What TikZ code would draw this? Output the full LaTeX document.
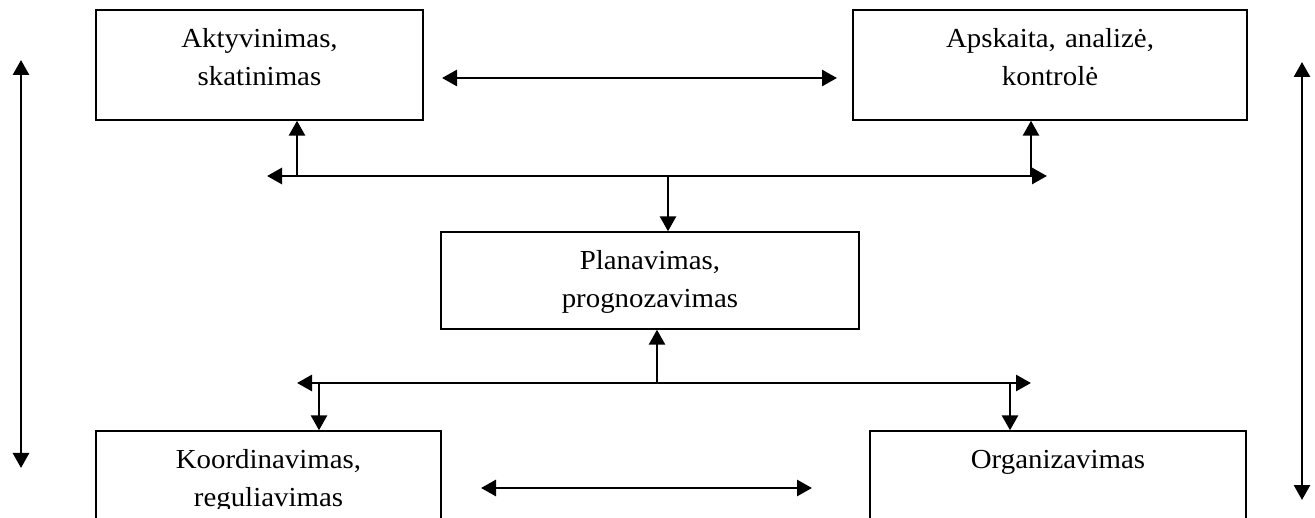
\documentclass[tikz,border=0pt]{standalone}
\usepackage{fontspec}
\setmainfont{Liberation Serif}[FakeStretch=1.05]
\usetikzlibrary{arrows.meta}
\begin{document}
\begin{tikzpicture}[x=1pt,y=-1pt,
  box/.style={draw, line width=1.4pt, inner sep=0pt},
  txt/.style={anchor=base, align=center, inner sep=0pt,
    font=\fontsize{27.5pt}{38pt}\selectfont},
  conn/.style={line width=2.8pt},
  >={Triangle[width=16pt,length=15pt]}]
\clip (0,0) rectangle (1315,518);

% function boxes
\node[box, minimum width=327pt, minimum height=110pt] (akt)   at (259.5,65)  {};
\node[box, minimum width=394pt, minimum height=110pt] (apsk)  at (1050,65)   {};
\node[box, minimum width=418pt, minimum height=97pt]  (plan)  at (650,280.5) {};
\node[box, minimum width=345pt, minimum height=114pt] (koord) at (268.5,488) {};
\node[box, minimum width=376pt, minimum height=114pt] (org)   at (1058,488)  {};

% box texts, first baseline 38.5pt below the top edge
\node[txt, text width=327pt] (aktT)  at ([yshift=-38.5pt]akt.north)  {Aktyvinimas,\\skatinimas};
\node[txt, text width=394pt] (apskT) at ([yshift=-38.5pt]apsk.north) {Apskaita, analizė,\\kontrolė};
\node[txt, text width=418pt] (planT) at ([yshift=-38.5pt]plan.north) {Planavimas,\\prognozavimas};
\begin{scope}
  \clip (0,0) rectangle (1315,508);
  \node[txt, text width=345pt] (koordT) at ([yshift=-38.5pt]koord.north) {Koordinavimas,\\reguliavimas};
  \node[txt, text width=376pt] (orgT)   at ([yshift=-38.5pt]org.north)   {Organizavimas};
\end{scope}

% connector end points
\coordinate (t1) at (442,78);   \coordinate (t2) at (837,78);
\coordinate (busL) at (267,176); \coordinate (busR) at (1047,176);
\coordinate (ja) at (297,176);  \coordinate (jb) at (1031,176);
\coordinate (jp) at (668,176);
\coordinate (bL) at (297,383);  \coordinate (bR) at (1031,383);
\coordinate (jq) at (657,383);
\coordinate (jk) at (319,383);  \coordinate (jo) at (1010,383);
\coordinate (b1) at (481,488);  \coordinate (b2) at (812,488);
\coordinate (l1) at (21,60);    \coordinate (l2) at (21,468);
\coordinate (r1) at (1302,62);  \coordinate (r2) at (1302,500);

% upper distribution line
\draw[conn,<->] (t1) -- (t2);
\draw[conn,<->] (busL) -- (busR);
\draw[conn,->] (ja) -- (ja |- akt.south);
\draw[conn,->] (jb) -- (jb |- apsk.south);
\draw[conn,->] (jp) -- (jp |- plan.north);

% lower distribution line
\draw[conn,<->] (bL) -- (bR);
\draw[conn,->] (jq) -- (jq |- plan.south);
\draw[conn,->] (jk) -- (jk |- koord.north);
\draw[conn,->] (jo) -- (jo |- org.north);
\draw[conn,<->] (b1) -- (b2);

% side arrows
\draw[conn,<->] (l1) -- (l2);
\draw[conn,<->] (r1) -- (r2);
\end{tikzpicture}
\end{document}
